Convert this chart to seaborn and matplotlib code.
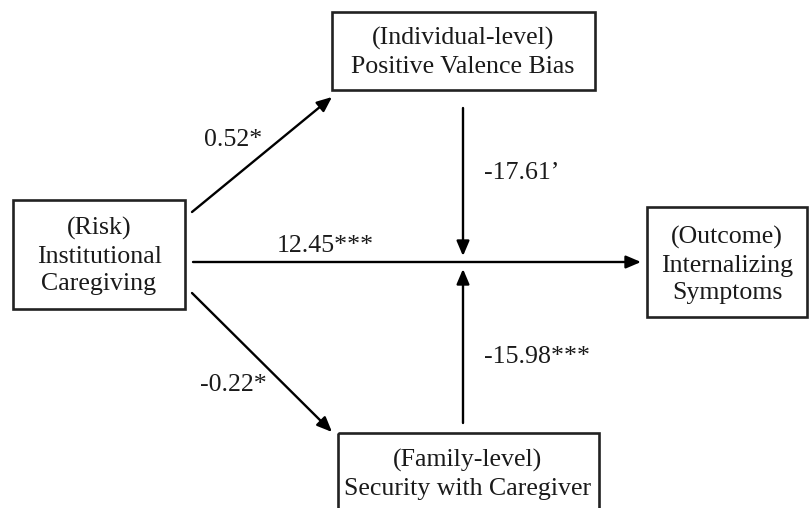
import matplotlib
matplotlib.use("Agg")
import matplotlib.pyplot as plt
from matplotlib.patches import Rectangle
import seaborn as sns

sns.set_theme(style="white")
plt.rcParams["font.family"] = ["Liberation Serif", "DejaVu Serif"]

# ── Diagram content ──────────────────────────────────────────────────────────
node_names = ["risk", "mediator_top", "mediator_bottom", "outcome"]
node_labels = [
    "(Risk)\nInstitutional\nCaregiving",
    "(Individual-level)\nPositive Valence Bias",
    "(Family-level)\nSecurity with Caregiver",
    "(Outcome)\nInternalizing\nSymptoms",
]
path_labels = ["0.52*", "-0.22*", "12.45***", "-17.61\u2019", "-15.98***"]

# ── Layout (pixel space, y down) ─────────────────────────────────────────────
boxes = {
    "risk":            (13, 200, 172, 109),
    "mediator_top":    (332, 12, 263, 78),
    "mediator_bottom": (338, 433, 261, 90),
    "outcome":         (647, 207, 160, 110),
}
text_centers = {
    "risk": (99, 256),
    "mediator_top": (463, 52),
    "mediator_bottom": (468, 474),
    "outcome": (727, 265),
}
arrows = [
    ((192, 212), (332, 97)),
    ((192, 293), (332, 432)),
    ((193, 262), (641, 262)),
    ((463, 108), (463, 256)),
    ((463, 423), (463, 269)),
]
label_pos = [(233, 140), (233, 385), (325, 246), (484, 173), (484, 357)]
label_ha = ["center", "center", "center", "left", "left"]

fig = plt.figure(figsize=(8.1, 5.08), dpi=100)
ax = fig.add_axes([0, 0, 1, 1])
ax.set_xlim(0, 810)
ax.set_ylim(508, 0)
ax.axis("off")

for name, label in zip(node_names, node_labels):
    x, y, w, h = boxes[name]
    ax.add_patch(Rectangle((x, y), w, h, fill=False, edgecolor="#222222", lw=1.9))
    cx, cy = text_centers[name]
    ax.text(cx, cy, label, ha="center", va="center", fontsize=18.6,
            linespacing=1.35, color="#1a1a1a")

for (start, end) in arrows:
    ax.annotate("", xy=end, xytext=start,
                arrowprops=dict(arrowstyle="-|>,head_length=0.75,head_width=0.32",
                                color="black", lw=1.7, shrinkA=0, shrinkB=0))

for text, (x, y), ha in zip(path_labels, label_pos, label_ha):
    ax.text(x, y, text, ha=ha, va="center", fontsize=18.6, color="#1a1a1a")

fig.savefig("out.png", dpi=100, facecolor="white")
